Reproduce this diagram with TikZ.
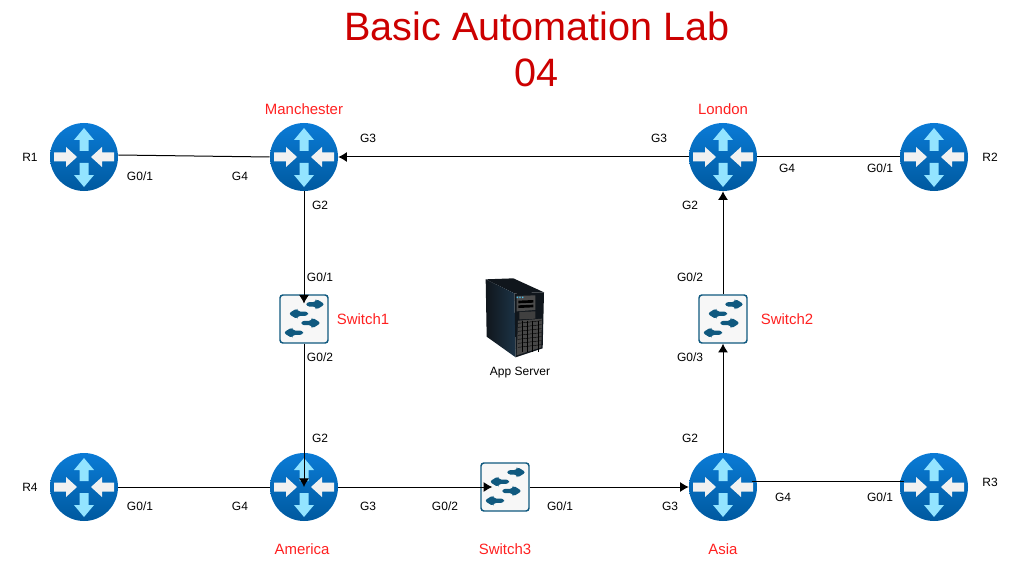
\documentclass[tikz,border=0pt]{standalone}
\usepackage{fontspec}
\setmainfont{Liberation Sans}
\usetikzlibrary{calc,arrows.meta}
\definecolor{routerTop}{HTML}{0A7BD6}
\definecolor{routerBot}{HTML}{00599F}
\definecolor{arrowCyan}{HTML}{93E4FF}
\definecolor{arrowGrey}{HTML}{F1F1F1}
\definecolor{switchBlue}{HTML}{10597F}
\definecolor{titleRed}{HTML}{CC0000}
\definecolor{labelRed}{HTML}{FF2020}
\definecolor{serverDark}{HTML}{10161C}
\definecolor{serverSide}{HTML}{1C3346}
\newcommand{\routerarrows}{%
  \begin{scope}[shift={(path picture bounding box.center)}]
    \fill[arrowCyan] (0,-29) -- (10,-17) -- (4.5,-17) -- (4.5,-6) -- (-4.5,-6) -- (-4.5,-17) -- (-10,-17) -- cycle;
    \fill[arrowCyan] (0,30) -- (10,18) -- (4.5,18) -- (4.5,6) -- (-4.5,6) -- (-4.5,18) -- (-10,18) -- cycle;
    \fill[arrowGrey] (-7,0) -- (-18,-10) -- (-18,-4.5) -- (-30,-4.5) -- (-30,4.5) -- (-18,4.5) -- (-18,10) -- cycle;
    \fill[arrowGrey] (7,0) -- (18,-10) -- (18,-4.5) -- (30,-4.5) -- (30,4.5) -- (18,4.5) -- (18,10) -- cycle;
  \end{scope}}
\newcommand{\switcharrows}{%
  \begin{scope}[shift={(path picture bounding box.center)}]
    \foreach \xa/\xb/\ya/\dir in {2.3/21/-14.7/-1, 4/-15.7/-5.3/1, -2.7/17/4/-1, -1/-20.7/13.7/1}
      \fill[switchBlue] (\xa,\ya-2.2) -- (\xb+\dir*9,\ya-2.2) -- (\xb+\dir*9,\ya-5.6) -- (\xb,\ya) -- (\xb+\dir*9,\ya+5.6) -- (\xb+\dir*9,\ya+2.2) -- (\xa,\ya+2.2) -- cycle;
  \end{scope}}
\tikzset{
  routericon/.style={circle, minimum size=51pt, inner sep=0pt, top color=routerTop, bottom color=routerBot, path picture={\routerarrows}},
  switchicon/.style={rectangle, rounded corners=2.2pt, minimum size=36pt, inner sep=0pt, draw=switchBlue, line width=1.1pt, fill=white!97!black, path picture={\switcharrows}},
  link/.style={draw=black, line width=.75pt},
  arrowlink/.style={link, -{Latex[length=6.5pt,width=7.5pt]}},
  portlabel/.style={font=\fontsize{9}{11}\selectfont, text=black, inner sep=0pt},
  namelabel/.style={font=\fontsize{11.2}{13}\selectfont, text=labelRed, inner sep=0pt},
  titlelabel/.style={font=\fontsize{29.7}{34.5}\selectfont, text=titleRed, align=center, inner sep=0pt}
}
\begin{document}
\begin{tikzpicture}[x=.75pt,y=-.75pt]
\path [use as bounding box] (0,0) rectangle (1020,563);
\node[titlelabel] (title) at (537,49) {Basic Automation Lab\\04};

\node[routericon] (R1) at (84,157) {};
\node[routericon] (Manchester) at (304,157) {};
\node[routericon] (London) at (723,157) {};
\node[routericon] (R2) at (934,157) {};
\node[routericon] (R4) at (84,487) {};
\node[routericon] (America) at (304,487) {};
\node[routericon] (Asia) at (723,487) {};
\node[routericon] (R3) at (934,487) {};
\node[switchicon] (Switch1) at (304,319) {};
\node[switchicon] (Switch2) at (723,319) {};
\node[switchicon] (Switch3) at (505,487) {};

\draw[link] ([yshift=1.5pt]R1.east) -- (Manchester.west);
\draw[arrowlink] (London.west) -- (Manchester.east);
\draw[link] (London.east) -- (R2.west);
\draw[link] (R4.east) -- (America.west);
\draw[arrowlink] (America.east) -- ([xshift=9pt]Switch3.west);
\draw[arrowlink] (Switch3.east) -- (Asia.west);
\draw[link] ($(Asia.east)+(-4pt,4.5pt)$) -- ($(R3.west)+(3pt,4.5pt)$);
\draw[arrowlink] (Manchester.south) -- ([yshift=-7pt]Switch1.north);
\draw[arrowlink] (Switch1.south) -- (America.center);
\draw[arrowlink] (Asia.north) -- (Switch2.south);
\draw[arrowlink] (Switch2.north) -- (London.south);

% app server
\begin{scope}[shift={(470,270)}, x=.25pt, y=-.25pt]
\fill[serverDark] (47,28) -- (130,25) -- (222,67) -- (133,70) -- cycle;
\shade[left color=serverDark, right color=serverSide] (47,28) -- (133,70) -- (137,262) -- (50,200) -- cycle;
\fill[serverDark] (133,70) -- (222,67) -- (218,235) -- (137,262) -- cycle;
\fill[black!70] (140,78) -- (196,76) -- (196,120) -- (140,124) -- cycle;
\fill[black] (145,92) -- (190,90) -- (190,98) -- (145,100) -- cycle;
\fill[black] (145,106) -- (190,104) -- (190,112) -- (145,114) -- cycle;
\fill[black!75] (148,126) -- (196,124) -- (196,146) -- (148,148) -- cycle;
\fill[black!72] (144,152) -- (216,146) -- (214,232) -- (140,256) -- cycle;
\fill[cyan!70!white] (140,80) rectangle (144,84) (148,80) rectangle (152,84) (156,80) rectangle (160,84);
\foreach \yy in {160,172,...,232} \draw[black, line width=.3pt] (144,\yy) -- (214,\yy-8);
\foreach \xx in {156,172,...,204} \draw[black, line width=.3pt] (\xx,152) -- (\xx,246);
\end{scope}
\node[portlabel] (appserver) at (520,373) {App Server};

\node[namelabel] (lblManchester) at (304,109) {Manchester};
\node[namelabel] (lblLondon) at (723,109) {London};
\node[namelabel] (lblAmerica) at (302,549) {America};
\node[namelabel] (lblSwitch3) at (505,549) {Switch3};
\node[namelabel] (lblAsia) at (723,549) {Asia};
\node[namelabel] (lblSwitch1) at (363,319) {Switch1};
\node[namelabel] (lblSwitch2) at (787,319) {Switch2};

\foreach \px/\py/\ptext/\pname in {30/157/R1/a, 990/157/R2/b, 990/482/R3/c, 30/487/R4/d,
  140/176/G0\slash 1/e, 240/176/G4/f, 368/138/G3/g, 659/138/G3/h, 787/168/G4/i, 880/168/G0\slash 1/j,
  320/205/G2/k, 320/277/G0\slash 1/l, 320/357/G0\slash 2/m, 320/438/G2/n,
  690/205/G2/o, 690/277/G0\slash 2/p, 690/357/G0\slash 3/q, 690/438/G2/r,
  140/506/G0\slash 1/s, 240/506/G4/t, 368/506/G3/u, 445/506/G0\slash 2/v, 560/506/G0\slash 1/w, 670/506/G3/x,
  783/497/G4/y, 880/497/G0\slash 1/z}
  \node[portlabel] (port\pname) at (\px,\py) {\ptext};
\end{tikzpicture}
\end{document}
